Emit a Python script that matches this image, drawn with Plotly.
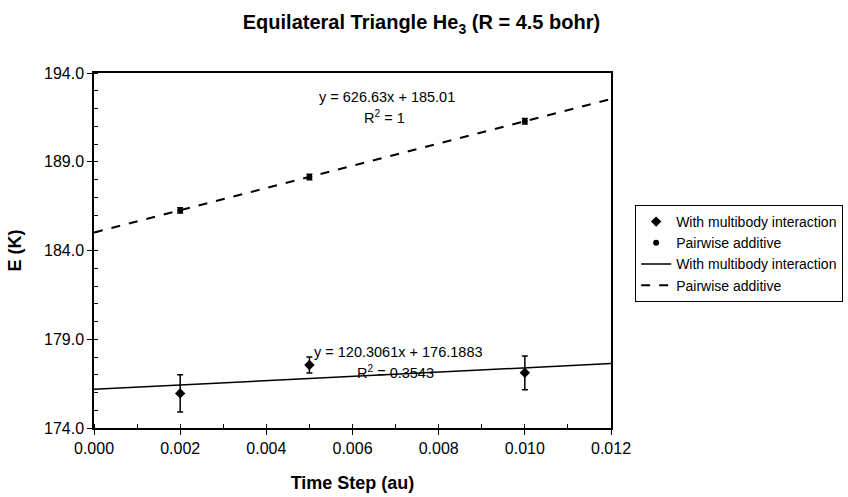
import numpy as np
import plotly.graph_objects as go

# Time steps (au) and energies (K)
time_step = [0.002, 0.005, 0.010]
e_multibody = [175.95, 177.55, 177.11]
err_multibody = [1.05, 0.45, 0.95]
e_pairwise = [186.26, 188.14, 191.28]
err_pairwise = [0.15, 0.15, 0.15]

# Linear fits (slope, intercept) shown on the chart
fit_multibody = [120.3061, 176.1883]
fit_pairwise = [626.63, 185.01]
fit_range = [0.0, 0.012]
y_range = [174.0, 194.0]

x_ticks = [0.000, 0.002, 0.004, 0.006, 0.008, 0.010, 0.012]
y_ticks = [174.0, 179.0, 184.0, 189.0, 194.0]

FONT = "Arial, Liberation Sans, sans-serif"

fx = np.array(fit_range)

fig = go.Figure()
fig.add_trace(go.Scatter(
    x=time_step, y=e_multibody, mode="markers", name="With multibody interaction",
    marker=dict(symbol="diamond", size=8, color="black"),
    error_y=dict(type="data", array=err_multibody, color="black", thickness=1.5, width=3),
))
fig.add_trace(go.Scatter(
    x=time_step, y=e_pairwise, mode="markers", name="Pairwise additive",
    marker=dict(symbol="circle", size=6, color="black"),
    error_y=dict(type="data", array=err_pairwise, color="black", thickness=1.5, width=3),
))
fig.add_trace(go.Scatter(
    x=fx, y=fit_multibody[0] * fx + fit_multibody[1], mode="lines",
    name="With multibody interaction", line=dict(color="black", width=1.5),
))
fig.add_trace(go.Scatter(
    x=fx, y=fit_pairwise[0] * fx + fit_pairwise[1], mode="lines",
    name="Pairwise additive", line=dict(color="black", width=2, dash="dash"),
))

ann_font = dict(size=14.5, color="black", family=FONT)
fig.add_annotation(x=0.0068, y=192.65, xref="x", yref="y", showarrow=False,
                   text="y = 626.63x + 185.01", font=ann_font)
fig.add_annotation(x=0.00675, y=191.52, xref="x", yref="y", showarrow=False,
                   text="R<sup>2</sup> = 1", font=ann_font)
fig.add_annotation(x=0.00706, y=178.28, xref="x", yref="y", showarrow=False,
                   text="y = 120.3061x + 176.1883", font=ann_font)
fig.add_annotation(x=0.00699, y=177.15, xref="x", yref="y", showarrow=False,
                   text="R<sup>2</sup> = 0.3543", font=ann_font)

fig.update_layout(
    width=848, height=497,
    margin=dict(l=94, r=237, t=73, b=69, autoexpand=False),
    paper_bgcolor="white", plot_bgcolor="white",
    font=dict(family=FONT, color="black", size=16),
    title=dict(text="<b>Equilateral Triangle He<sub>3</sub> (R = 4.5 bohr)</b>",
               x=0.497, xanchor="center", y=0.955, yanchor="middle",
               font=dict(size=20, family=FONT, color="black")),
    legend=dict(x=0.749, y=0.5875, xref="container", yref="container",
                xanchor="left", yanchor="top",
                bordercolor="black", borderwidth=1, bgcolor="white",
                font=dict(size=14, family=FONT, color="black"),
                tracegroupgap=0, itemwidth=30),
    xaxis=dict(
        range=fit_range, tickvals=x_ticks, tickformat=".3f",
        showline=True, linecolor="black", linewidth=1.5, mirror=True,
        ticks="outside", ticklen=5, tickcolor="black", tickwidth=1.2,
        minor=dict(dtick=0.001, ticks="inside", ticklen=4, tickcolor="black", tickwidth=1),
        showgrid=False, zeroline=False,
        tickfont=dict(size=16, family=FONT, color="black"),
        title=dict(text="<b>Time Step (au)</b>", standoff=20,
                   font=dict(size=18, family=FONT, color="black")),
    ),
    yaxis=dict(
        range=y_range, tickvals=y_ticks, tickformat=".1f",
        showline=True, linecolor="black", linewidth=1.5, mirror=True,
        ticks="outside", ticklen=5, tickcolor="black", tickwidth=1.2,
        minor=dict(dtick=1, ticks="inside", ticklen=4, tickcolor="black", tickwidth=1),
        showgrid=False, zeroline=False,
        tickfont=dict(size=16, family=FONT, color="black"),
        title=dict(text="<b>E (K)</b>", standoff=18,
                   font=dict(size=18, family=FONT, color="black")),
    ),
    # overlay axes carrying the inner half of the crossing major ticks
    xaxis2=dict(overlaying="x", anchor="y", side="bottom", range=fit_range,
                tickvals=x_ticks, ticks="inside", ticklen=5, tickcolor="black",
                tickwidth=1.2, showticklabels=False, showgrid=False,
                zeroline=False, showline=False),
    yaxis2=dict(overlaying="y", anchor="x", side="left", range=y_range,
                tickvals=y_ticks, ticks="inside", ticklen=5, tickcolor="black",
                tickwidth=1.2, showticklabels=False, showgrid=False,
                zeroline=False, showline=False),
    showlegend=True,
)

fig.write_html("out.html")
